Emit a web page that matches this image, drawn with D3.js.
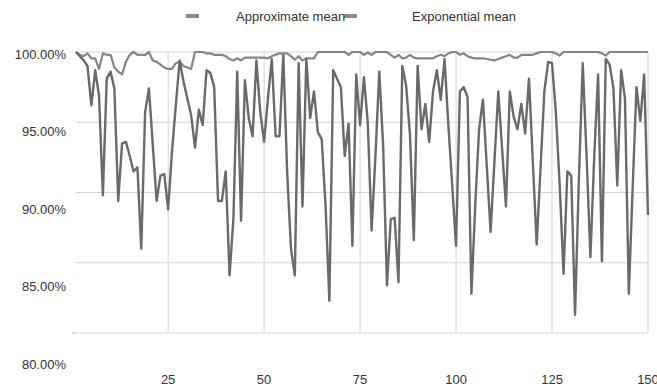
<!DOCTYPE html>
<html>
<head>
<meta charset="utf-8">
<script src="https://cdn.jsdelivr.net/npm/d3@7"></script>
<style>
body{margin:0;background:#fff;}
text{font-family:"Liberation Sans",Arial,sans-serif;font-size:13px;fill:#333;}
</style>
</head>
<body>
<div id="chart"></div>
<script>
var approxMean = [100,99.7,99.4,99.0,96.2,98.7,96.9,89.8,98.1,98.6,
97.4,89.4,93.5,93.6,92.6,91.5,91.8,86.0,95.7,97.4,
93.4,89.4,91.2,91.3,88.8,92.9,96.2,99.4,97.9,96.7,
95.5,93.2,95.9,94.8,98.7,98.5,97.5,89.4,89.4,91.5,
84.1,88.1,98.6,88.0,98.0,95.3,94.0,99.4,95.7,93.6,
96.7,99.5,94.0,94.0,99.8,91.5,86.0,84.1,99.2,89.0,
99.5,95.3,97.2,94.3,93.8,89.1,82.3,98.7,98.1,97.5,
92.6,94.9,86.2,98.4,94.8,98.2,95.0,87.3,92.6,98.6,
93.4,83.4,88.1,88.2,83.6,99.0,97.6,94.1,86.6,99.0,
94.5,96.3,93.6,97.2,98.7,96.6,99.5,94.8,90.5,86.2,
97.2,97.5,96.8,82.8,89.1,94.5,96.6,91.9,87.2,92.2,
97.2,93.1,89.0,97.2,95.4,94.5,96.3,94.2,98.1,92.2,
86.3,91.7,97.2,99.3,99.2,95.7,90.5,84.2,91.5,91.2,
81.3,91.0,99.2,92.6,85.4,92.6,98.4,85.1,99.5,99.1,
97.4,90.5,98.7,96.7,82.8,90.3,97.5,95.1,98.4,88.4]

var expMean = [100,99.8,99.7,99.9,99.55,99.55,98.8,99.9,99.8,99.8,
98.9,98.6,98.4,99.3,99.8,100,99.8,99.8,99.8,100,
99.4,99.3,99.1,98.9,98.8,98.8,99.2,99.3,99.0,98.9,
98.8,100,100,100,99.9,99.9,99.8,99.8,99.8,99.7,
99.5,99.4,99.55,99.4,99.6,99.6,99.6,99.6,99.6,99.6,
99.55,99.7,99.8,99.9,99.9,99.9,99.7,99.45,99.7,99.4,
99.55,99.55,99.55,100,100,100,100,100,100,100,
100,99.8,100,100,100,99.8,99.95,99.8,100,100,
100,100,99.8,99.6,99.8,99.55,99.6,99.8,99.6,99.55,
99.55,99.55,99.55,99.55,99.7,99.8,99.7,99.9,100,100,
99.8,99.9,99.7,99.6,99.55,99.55,99.55,99.5,99.45,99.4,
99.5,99.6,99.7,99.8,99.6,99.6,99.8,99.8,99.8,99.8,
99.9,100,100,100,100,99.9,99.75,100,100,100,
100,100,100,100,100,100,100,99.9,99.75,100,
100,100,100,100,100,100,100,100,100,100]

var seriesNames = ["Approximate mean","Exponential mean"]
var yTicks = [80,85,90,95,100]
var xTicks = [25,50,75,100,125,150]

var width = 657, height = 387
var svg = d3.select("#chart").append("svg").attr("width",width).attr("height",height)

var x = d3.scaleLinear().domain([1,150]).range([76,648])
var y = d3.scaleLinear().domain([80,100]).range([333,52])
// labels sit on their own spacing in the original
var yLabel = d3.scaleLinear().domain([80,100]).range([364,54])

// grid
svg.selectAll(".hgrid").data(yTicks).enter().append("line")
    .attr("x1",x(1)).attr("x2",x(150))
    .attr("y1",function(d){return y(d)}).attr("y2",function(d){return y(d)})
    .style("stroke","#d4d4d4").style("stroke-width",1)
svg.selectAll(".vgrid").data(xTicks).enter().append("line")
    .attr("x1",function(d){return x(d)}).attr("x2",function(d){return x(d)})
    .attr("y1",y(100)).attr("y2",y(80))
    .style("stroke","#d4d4d4").style("stroke-width",1)
svg.append("line").attr("x1",x(1)-4).attr("x2",x(1)).attr("y1",y(80)).attr("y2",y(80))
    .style("stroke","#bbb")

// tick labels
svg.selectAll(".ylab").data(yTicks).enter().append("text")
    .attr("x",66).attr("y",function(d){return yLabel(d)})
    .attr("dy","0.35em").attr("text-anchor","end")
    .text(function(d){return d3.format(".2f")(d)+"%"})
svg.selectAll(".xlab").data(xTicks).enter().append("text")
    .attr("x",function(d){return x(d)}).attr("y",384)
    .attr("text-anchor","middle")
    .text(function(d){return d})

// lines
var line = d3.line()
    .x(function(d,i){return x(i+1)})
    .y(function(d){return y(d)})
svg.append("path").datum(expMean).attr("d",line)
    .style("fill","none").style("stroke","#858585").style("stroke-width",2.2)
    .style("stroke-linejoin","round")
svg.append("path").datum(approxMean).attr("d",line)
    .style("fill","none").style("stroke","#6a6a6a").style("stroke-width",2.4)
    .style("stroke-linejoin","round")

// legend
var legendX = [186,344]
var legendTextX = [236,412]
svg.selectAll(".lmark").data(seriesNames).enter().append("rect")
    .attr("x",function(d,i){return legendX[i]}).attr("y",14)
    .attr("width",13).attr("height",4)
    .style("fill","#8a8a8a")
svg.selectAll(".ltext").data(seriesNames).enter().append("text")
    .attr("x",function(d,i){return legendTextX[i]}).attr("y",21)
    .text(function(d){return d})
</script>
</body>
</html>
